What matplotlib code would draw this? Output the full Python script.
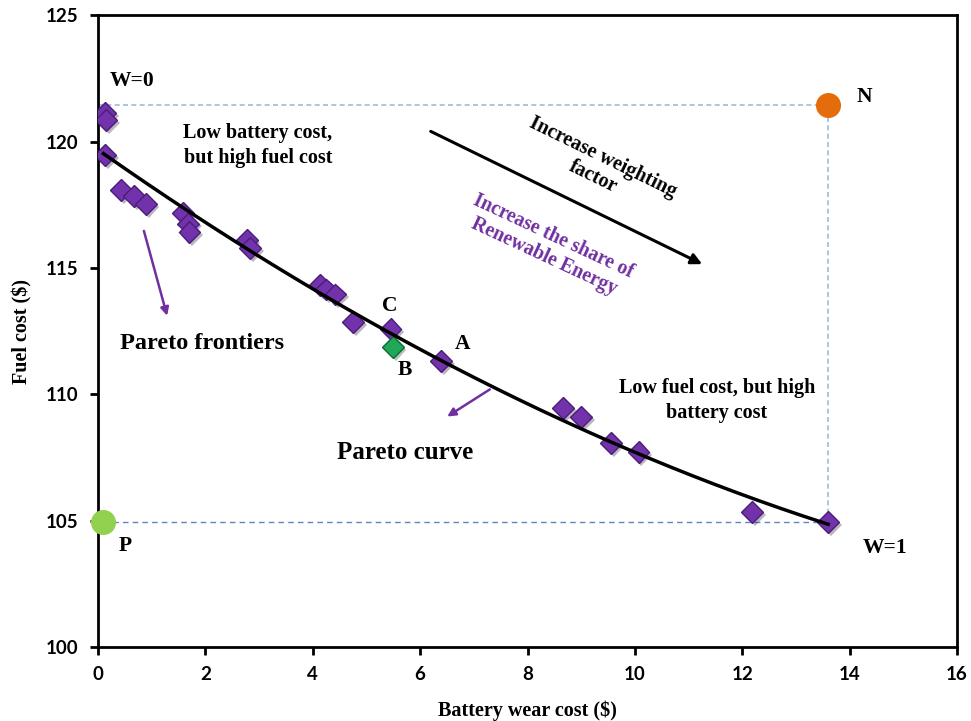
import numpy as np
import matplotlib.pyplot as plt
import matplotlib.patheffects as pe

# Pareto frontier points (battery wear cost, fuel cost)
battery_cost = [0.13, 0.15, 0.13, 0.43, 0.67, 0.89, 1.58, 1.68, 1.70, 2.77, 2.83,
                4.13, 4.25, 4.42, 4.75, 5.45, 6.39, 8.66, 9.00, 9.55, 10.07, 12.18, 13.60]
fuel_cost = [121.12, 120.85, 119.46, 118.08, 117.84, 117.52, 117.17, 116.75, 116.42, 116.10, 115.78,
             114.32, 114.15, 113.95, 112.86, 112.58, 111.31, 109.45, 109.10, 108.07, 107.71, 105.34, 104.94]

# point B (highlighted)
b_point = (5.49, 111.87)

# utopia / nadir points
p_point = (0.09, 104.94)
n_point = (13.60, 121.45)

# points (trendline)
curve_x = [0.1, 2.0, 4.0, 5.5, 8.0, 10.0, 12.2, 13.6]
curve_y = [119.45, 116.8, 114.4, 112.25, 109.6, 107.65, 105.8, 104.95]

serif = 'Liberation Serif'
tick_font = 'Lato'
purple = '#7030a0'

fig = plt.figure(figsize=(9.71, 7.21), dpi=100)
ax = fig.add_axes([0.101, 0.1026, 0.8846, 0.8764])

# dashed reference lines
ax.plot([0, n_point[0]], [n_point[1], n_point[1]], ls=(0, (3, 2)), color='#9dbbe0', lw=1.2, zorder=1)
ax.plot([n_point[0], n_point[0]], [p_point[1], n_point[1]], ls=(0, (3, 2)), color='#9dbbe0', lw=1.2, zorder=1)
ax.plot([p_point[0], n_point[0]], [p_point[1], p_point[1]], ls=(0, (4, 3)), color='#5b86c2', lw=1.0, zorder=1)

shadow = [pe.SimplePatchShadow(offset=(2, -2), alpha=0.3), pe.Normal()]

ax.plot(battery_cost, fuel_cost, ls='none', marker='D', ms=11, mfc='#7232ab', mec='#4b1d78',
        mew=1.0, zorder=3, path_effects=shadow)
ax.plot(*b_point, ls='none', marker='D', ms=11, mfc='#1fa857', mec='#0d6b33', mew=1.0,
        zorder=4, path_effects=shadow)

# Pareto curve as a quadratic trendline
coef = np.polyfit(curve_x, curve_y, 2)
xs = np.linspace(curve_x[0], curve_x[-1], 200)
ax.plot(xs, np.polyval(coef, xs), color='black', lw=2.5, zorder=5)

ax.plot(*p_point, marker='o', ms=17, color='#92d050', ls='none', zorder=6, clip_on=False)
ax.plot(*n_point, marker='o', ms=17, color='#e46c0a', ls='none', zorder=6)

txt = dict(fontfamily=serif, fontweight='bold')
ax.text(0.22, 122.4, 'W=0', fontsize=15.5, va='center', **txt)
ax.text(2.98, 119.85, 'Low battery cost,\nbut high fuel cost', fontsize=14.5, ha='center', va='center',
        linespacing=1.3, **txt)
ax.text(0.41, 112.0, 'Pareto frontiers', fontsize=17.5, va='center', **txt)
ax.text(5.44, 113.5, 'C', fontsize=15.5, ha='center', va='center', **txt)
ax.text(6.78, 112.0, 'A', fontsize=15.5, ha='center', va='center', **txt)
ax.text(5.72, 110.95, 'B', fontsize=15.5, ha='center', va='center', **txt)
ax.text(5.72, 107.7, 'Pareto curve', fontsize=18, ha='center', va='center', **txt)
ax.text(11.53, 109.75, 'Low fuel cost, but high\nbattery cost', fontsize=14.5, ha='center', va='center',
        linespacing=1.3, **txt)
ax.text(14.28, 121.75, 'N', fontsize=15.5, ha='center', va='center', **txt)
ax.text(0.5, 104.0, 'P', fontsize=15.5, ha='center', va='center', **txt)
ax.text(14.66, 103.9, 'W=1', fontsize=15.5, ha='center', va='center', **txt)
ax.text(9.31, 119.0, 'Increase weighting\nfactor', fontsize=14.5, ha='center', va='center',
        rotation=-26, rotation_mode='anchor', linespacing=1.1, **txt)
ax.text(8.4, 115.85, 'Increase the share of\nRenewable Energy', fontsize=14.2, ha='center', va='center',
        rotation=-25, rotation_mode='anchor', color=purple, linespacing=1.1, **txt)

# arrows
ax.annotate('', xy=(11.3, 115.1), xytext=(6.15, 120.45),
            arrowprops=dict(arrowstyle='-|>', color='black', lw=2.2, mutation_scale=16))
ax.annotate('', xy=(1.30, 113.0), xytext=(0.84, 116.57),
            arrowprops=dict(arrowstyle='-|>', color=purple, lw=1.8, mutation_scale=12))
ax.annotate('', xy=(6.46, 109.06), xytext=(7.34, 110.25),
            arrowprops=dict(arrowstyle='-|>', color=purple, lw=1.8, mutation_scale=12))

ax.set_xlim(0, 16)
ax.set_ylim(100, 125)
ax.set_xticks(range(0, 17, 2))
ax.set_yticks(range(100, 126, 5))
for s in ax.spines.values():
    s.set_linewidth(2)
ax.tick_params(axis='both', direction='out', width=2, length=6, labelsize=13.5, pad=8)
for lab in ax.get_xticklabels() + ax.get_yticklabels():
    lab.set_fontfamily(tick_font)
    lab.set_fontweight('bold')

ax.set_xlabel('Battery wear cost ($)', fontsize=14.5, labelpad=12, **txt)
ax.set_ylabel('Fuel cost ($)', fontsize=14.5, labelpad=10, **txt)

fig.savefig('out.png', dpi=100)
